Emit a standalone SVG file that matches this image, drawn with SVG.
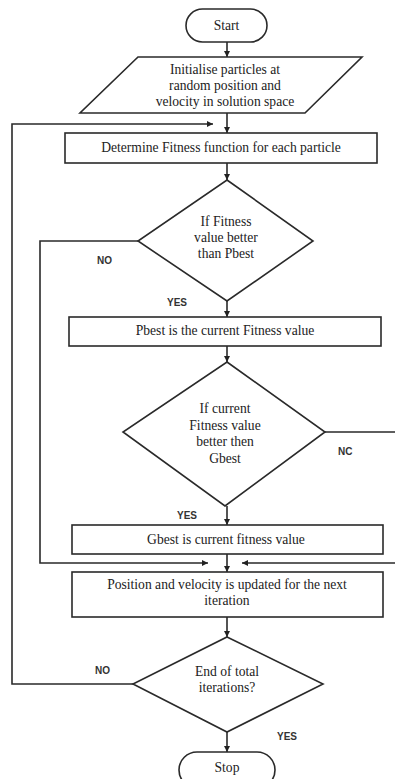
<svg xmlns="http://www.w3.org/2000/svg" width="395" height="779" viewBox="0 0 395 779">
<style>
.s{fill:#fff;stroke:#2a2a2a;stroke-width:1.6}
.t{font-family:"Liberation Serif","Times New Roman",serif;font-size:13.6px;fill:#222;text-anchor:middle}
.l{font-family:"Liberation Sans",Arial,sans-serif;font-size:10px;font-weight:bold;fill:#333}
.c{fill:none;stroke:#2a2a2a;stroke-width:1.6}
</style>
<defs>
<marker id="a" viewBox="0 0 10 10" refX="10" refY="5" markerWidth="6" markerHeight="6" orient="auto" markerUnits="userSpaceOnUse">
<path d="M0,0 L10,5 L0,10 z" fill="#222"/>
</marker>
</defs>
<rect width="395" height="779" fill="#fff"/>
<g id="connectors">
<path class="c" d="M227,42 V57" marker-end="url(#a)"/>
<path class="c" d="M227,113 V133" marker-end="url(#a)"/>
<path class="c" d="M133,684 H12 V124 H213" marker-end="url(#a)"/>
<path class="c" d="M227,163 V180" marker-end="url(#a)"/>
<path class="c" d="M138,241 H40 V563 H208" marker-end="url(#a)"/>
<path class="c" d="M227,301 V317" marker-end="url(#a)"/>
<path class="c" d="M227,346 V362" marker-end="url(#a)"/>
<path class="c" d="M325,432 H399 V563 H242" marker-end="url(#a)"/>
<path class="c" d="M227,506 V525" marker-end="url(#a)"/>
<path class="c" d="M227,554 V572" marker-end="url(#a)"/>
<path class="c" d="M227,617 V637" marker-end="url(#a)"/>
<path class="c" d="M227,732 V752" marker-end="url(#a)"/>
</g>
<g id="start">
<rect class="s" x="186" y="9" width="81" height="33" rx="16.5"/>
<text class="t" x="226.5" y="30">Start</text>
</g>
<g id="init">
<polygon class="s" points="138,57 362,57 305,113 80,113"/>
<text class="t" x="225" y="74">Initialise particles at</text>
<text class="t" x="225" y="90">random position and</text>
<text class="t" x="225" y="106">velocity in solution space</text>
</g>
<g id="fitness">
<rect class="s" x="65" y="133" width="312" height="30"/>
<text class="t" x="221" y="152">Determine Fitness function for each particle</text>
</g>
<g id="dec1">
<polygon class="s" points="227,180 313,241 227,301 138,241"/>
<text class="t" x="226" y="226">If Fitness</text>
<text class="t" x="226" y="242">value better</text>
<text class="t" x="226" y="258">than Pbest</text>
</g>
<g id="pbest">
<rect class="s" x="69" y="317" width="312" height="29"/>
<text class="t" x="225" y="335">Pbest is the current Fitness value</text>
</g>
<g id="dec2">
<polygon class="s" points="227,362 325,432 225,506 123,432"/>
<text class="t" x="225" y="413">If current</text>
<text class="t" x="225" y="430">Fitness value</text>
<text class="t" x="225" y="446">better then</text>
<text class="t" x="225" y="463">Gbest</text>
</g>
<g id="gbest">
<rect class="s" x="72" y="525" width="311" height="29"/>
<text class="t" x="226" y="544">Gbest is current fitness value</text>
</g>
<g id="update">
<rect class="s" x="72" y="572" width="311" height="45"/>
<text class="t" x="227" y="589">Position and velocity is updated for the next</text>
<text class="t" x="227" y="605">iteration</text>
</g>
<g id="dec3">
<polygon class="s" points="227,637 323,684 227,732 133,684"/>
<text class="t" x="227" y="676">End of total</text>
<text class="t" x="227" y="692">iterations?</text>
</g>
<g id="stop">
<rect class="s" x="179" y="752" width="96" height="36" rx="18"/>
<text class="t" x="227" y="772">Stop</text>
</g>
<g id="labels">
<text class="l" x="97" y="264">NO</text>
<text class="l" x="167" y="306">YES</text>
<text class="l" x="338" y="455">NC</text>
<text class="l" x="177" y="519">YES</text>
<text class="l" x="95" y="674">NO</text>
<text class="l" x="277" y="740">YES</text>
</g>
</svg>
